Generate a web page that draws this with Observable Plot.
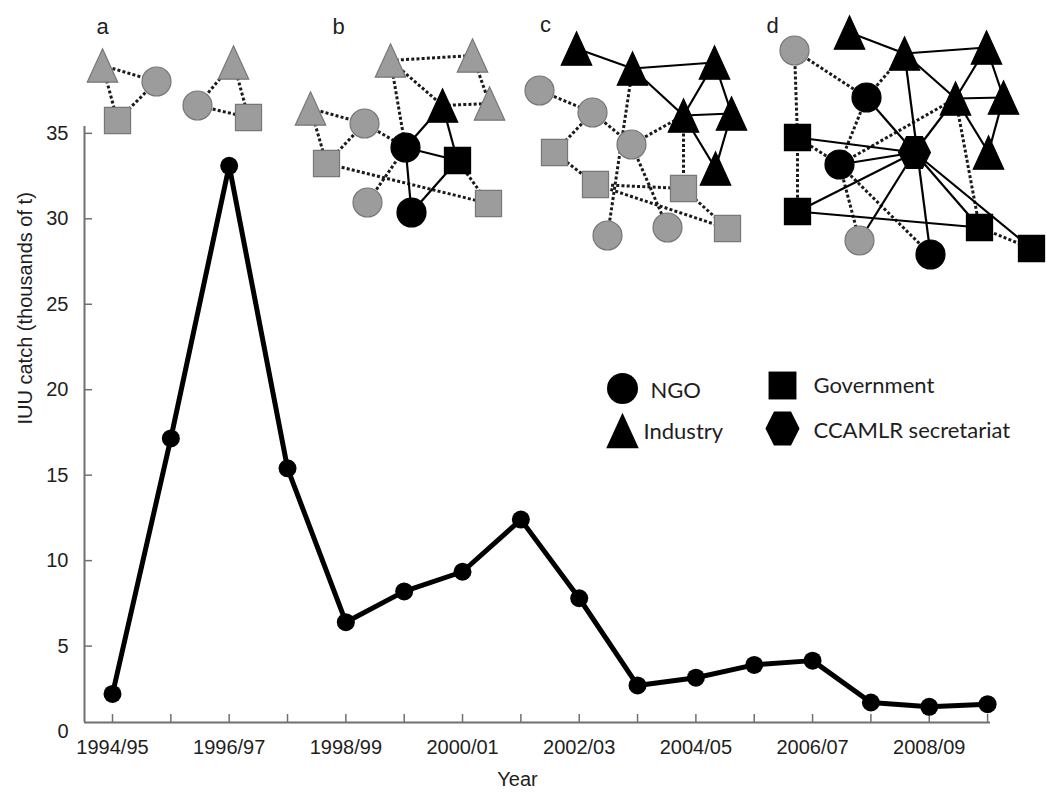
<!DOCTYPE html>
<html><head><meta charset="utf-8">
<script src="https://cdn.jsdelivr.net/npm/d3@7"></script>
<script src="https://cdn.jsdelivr.net/npm/@observablehq/plot@0.6"></script>
<style>
body{margin:0;background:#fff;}
#wrap{position:relative;width:1046px;height:798px;overflow:hidden;}
#wrap svg{position:absolute;left:0;top:0;}
</style></head><body><div id="wrap"></div>
<script>
// ---- main series ----
const seasons = ["1994/95","1995/96","1996/97","1997/98","1998/99","1999/00","2000/01","2001/02",
                 "2002/03","2003/04","2004/05","2005/06","2006/07","2007/08","2008/09","2009/10"];
const iuuCatch = [2.2,17.15,33.1,15.4,6.4,8.2,9.35,12.4,7.8,2.7,3.15,3.9,4.15,1.7,1.45,1.6];
const yTicks = [0,5,10,15,20,25,30,35];
const labelledSeasons = ["1994/95","1996/97","1998/99","2000/01","2002/03","2004/05","2006/07","2008/09"];
const yTitle = "IUU catch (thousands of t)";
const xTitle = "Year";

// ---- network diagrams (diagram coordinates) ----
const nodeId   = ["a1","a2","a3","a4","a5","a6",
  "b1","b2","b3","b4","b5","b6","b7","b8","b9","b10","b11","b12",
  "c1","c2","c3","c4","c5","c6","c7","c8","c9","c10","c11","c12","c13","c14","c15",
  "d1","d2","d3","d4","d5","d6","d7","d8","d9","d10","d11","d12","d13","d14","d15","d16"];
const nodeType = ["Industry","NGO","Government","Industry","NGO","Government",
  "Industry","Industry","Industry","NGO","Industry","Industry","NGO","Government","Government","NGO","NGO","Government",
  "Industry","Industry","Industry","Industry","Industry","Industry","NGO","NGO","NGO","Government","Government","Government","NGO","NGO","Government",
  "NGO","Industry","Industry","Industry","NGO","Industry","Industry","Government","CCAMLR secretariat","Industry","NGO","Government","NGO","Government","NGO","Government"];
const nodeActive = [0,0,0,0,0,0,
  0,0,0,0,1,0,1,1,0,0,1,0,
  1,1,1,1,1,1,0,0,0,0,0,0,0,0,0,
  0,1,1,1,1,1,1,1,1,1,1,1,0,1,1,1];
const nodeX = [102,156,117,233,197,248,
  390,472,310,364,442,489,405,457,326,367,411,488,
  576,632,714,683,731,715,539,592,631,554,595,683,607,667,727,
  794,849,904,986,866,955,1003,797,914,988,839,797,859,979,930,1031];
const nodeY = [65,81,120,62,105,117,
  60,55,108,123,105,103,147,160,163,202,212,203,
  48,68,62,115,113,168,90,112,144,152,184,188,235,227,228,
  50,32,53,47,97,98,97,137,152,152,164,211,240,227,254,248];
const solidEdges = [["b7","b5"],["b5","b8"],["b7","b8"],["b7","b11"],["b11","b8"],
  ["c1","c2"],["c2","c3"],["c2","c4"],["c4","c3"],["c3","c5"],["c4","c5"],["c4","c6"],["c5","c6"],
  ["d2","d3"],["d3","d4"],["d3","d6"],["d6","d4"],["d4","d7"],["d6","d7"],["d6","d10"],["d7","d10"],
  ["d3","d15"],["d5","d9"],["d9","d6"],["d8","d9"],["d11","d9"],["d12","d9"],["d13","d9"],
  ["d9","d14"],["d9","d16"],["d12","d14"]];
const dottedEdges = [["a1","a2"],["a1","a3"],["a3","a2"],["a4","a5"],["a4","a6"],["a5","a6"],
  ["b1","b2"],["b2","b6"],["b5","b6"],["b1","b5"],["b1","b7"],["b3","b4"],["b3","b9"],["b9","b4"],
  ["b4","b7"],["b9","b12"],["b10","b7"],["b8","b12"],
  ["c7","c8"],["c8","c10"],["c8","c9"],["c9","c4"],["c2","c13"],["c9","c14"],["c10","c11"],
  ["c11","c12"],["c11","c15"],["c12","c15"],["c12","c4"],
  ["d1","d8"],["d1","d5"],["d5","d3"],["d5","d11"],["d6","d11"],["d8","d12"],["d8","d11"],
  ["d11","d13"],["d11","d15"],["d6","d14"],["d14","d16"]];
const panelLetters = ["a","b","c","d"];
const panelLetterX = [102,338,545,772];
const panelLetterY = [26,26,24,25];

// ---- legend ----
const legendLabels = ["NGO","Industry","Government","CCAMLR secretariat"];
const legendSymX = [622,622,782,782];
const legendSymY = [388,430,385,428];
const legendTextX = [650,643,813,813];
const legendTextY = [390,431,385,430];

// ---- symbols ----
const symTriangle = {draw(ctx, size){const r=Math.sqrt(size/Math.PI), w=1.05*r, h=1.15*r;
  ctx.moveTo(0,-h); ctx.lineTo(w,h); ctx.lineTo(-w,h); ctx.closePath();}};
const symSquare = {draw(ctx, size){const r=Math.sqrt(size/Math.PI), s=0.9*r;
  ctx.moveTo(-s,-s); ctx.lineTo(s,-s); ctx.lineTo(s,s); ctx.lineTo(-s,s); ctx.closePath();}};
const symHex = {draw(ctx, size){const r=Math.sqrt(size/Math.PI), R=1.1*r, H=1.1*r;
  ctx.moveTo(R,0); ctx.lineTo(R/2,H); ctx.lineTo(-R/2,H); ctx.lineTo(-R,0); ctx.lineTo(-R/2,-H); ctx.lineTo(R/2,-H); ctx.closePath();}};
const symbolOf = {"NGO":"circle","Industry":symTriangle,"Government":symSquare,"CCAMLR secretariat":symHex};

// ---- build main chart ----
const series = seasons.map((s,i)=>({i, season:s, v:iuuCatch[i]}));
const xDomain = [-0.48, 15.05];
const yDomain = [0.53, 35.4];
const axisFont = "Liberation Sans, Arial, Helvetica, sans-serif";
const ink = "#1e1e1e";

const main = Plot.plot({
  width: 1046, height: 798,
  marginLeft: 84, marginRight: 56, marginTop: 126, marginBottom: 76,
  style: {fontFamily: axisFont, fontSize: "20px", background: "transparent", color: ink},
  x: {domain: xDomain},
  y: {domain: yDomain},
  marks: [
    Plot.ruleX([xDomain[0]], {stroke: "#707070", strokeWidth: 2}),
    Plot.ruleY([yDomain[0]], {stroke: "#707070", strokeWidth: 2}),
    Plot.axisX({ticks: seasons.map((s,i)=>i), tickSize: 8, dy: -8, tickFormat: () => "", stroke: "#707070", strokeWidth: 1.5, label: null}),
    Plot.axisX({ticks: labelledSeasons.map(s=>seasons.indexOf(s)), tickSize: 0, tickPadding: 17, tickFormat: i => seasons[i], label: null, fontSize: 20, fontFamily: axisFont, fill: ink}),
    Plot.axisY({ticks: yTicks.slice(1), tickSize: 8, dx: 8, tickFormat: () => "", stroke: "#707070", strokeWidth: 1.5, label: null}),
    Plot.axisY({ticks: yTicks, tickSize: 0, tickPadding: 16, label: null, fontSize: 20, fontFamily: axisFont, fill: ink}),
    Plot.line(series, {x: "i", y: "v", stroke: "#000", strokeWidth: 5, strokeLinejoin: "round"}),
    Plot.dot(series, {x: "i", y: "v", r: 9, fill: "#000"}),
    Plot.text([yTitle], {text: d=>d, frameAnchor: "left", dx: -59, rotate: -90, fontSize: 20, fontFamily: axisFont, fill: ink}),
    Plot.text([xTitle], {text: d=>d, frameAnchor: "bottom", dy: 63, dx: -20, fontSize: 20, fontFamily: axisFont, fill: ink})
  ]
});

// ---- build network overlay ----
const nodes = nodeId.map((id,k)=>({id, type:nodeType[k], active:!!nodeActive[k], x:nodeX[k], y:nodeY[k]}));
const byId = new Map(nodes.map(n=>[n.id,n]));
const toLinks = arr => arr.map(([a,b])=>({x1:byId.get(a).x, y1:byId.get(a).y, x2:byId.get(b).x, y2:byId.get(b).y}));
const legend = legendLabels.map((l,k)=>({label:l, sx:legendSymX[k], sy:legendSymY[k], tx:legendTextX[k], ty:legendTextY[k]}));

const nodeMarks = Object.keys(symbolOf).map(t =>
  Plot.dot(nodes.filter(n=>n.type===t), {x:"x", y:"y", r:14.5, symbol: symbolOf[t],
    fill: n => n.active ? "#000000" : "#9c9c9c",
    stroke: n => n.active ? "#000000" : "#777777", strokeWidth: 1.2}));
const legendMarks = legend.map(d =>
  Plot.dot([d], {x:"sx", y:"sy", r:15.5, symbol: symbolOf[d.label], fill:"#000"}));

const overlay = Plot.plot({
  width: 1046, height: 798, margin: 0,
  style: {background: "transparent"},
  x: {domain: [0,1046], range: [0,1046], axis: null},
  y: {domain: [0,798], range: [0,798], axis: null},
  marks: [
    Plot.link(toLinks(dottedEdges), {x1:"x1", y1:"y1", x2:"x2", y2:"y2", stroke:"#1a1a1a", strokeWidth:3, strokeDasharray:"3,2.2"}),
    Plot.link(toLinks(solidEdges), {x1:"x1", y1:"y1", x2:"x2", y2:"y2", stroke:"#000", strokeWidth:2.2}),
    ...nodeMarks,
    Plot.text(panelLetters, {x: (d,k)=>panelLetterX[k], y: (d,k)=>panelLetterY[k], text: d=>d, fontSize: 22, fontFamily: axisFont, fill: ink}),
    ...legendMarks,
    Plot.text(legend, {x:"tx", y:"ty", text:"label", textAnchor:"start", fontSize: 22, fontFamily: "Lato, 'Open Sans', sans-serif", fill: ink})
  ]
});

const wrap = document.getElementById("wrap");
wrap.appendChild(main);
wrap.appendChild(overlay);
</script></body></html>
